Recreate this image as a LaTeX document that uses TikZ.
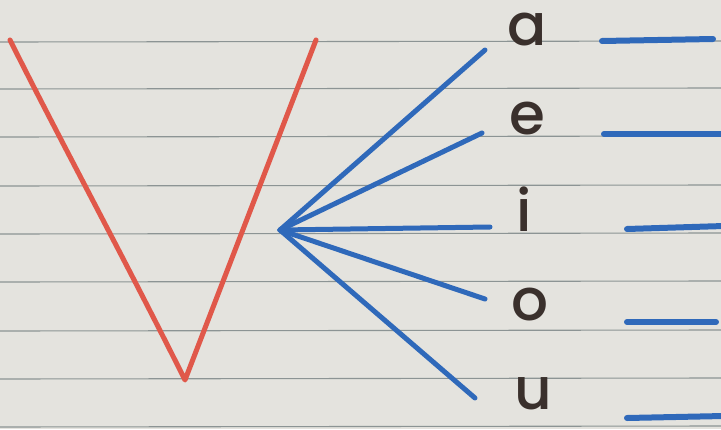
\documentclass[tikz,border=0pt]{standalone}
\usepackage{fontspec}
\setmainfont{Poppins}
\newfontfamily\vfont{Poppins Medium}
\begin{document}
\begin{tikzpicture}[x=1pt,y=-1pt,
  paper/.style={fill=paperc,draw=none},
  rule/.style={draw=rulec,line width=1.1pt},
  redpen/.style={draw=redc,line width=5pt,line cap=round,line join=round},
  bluepen/.style={draw=bluec,line width=5pt,line cap=round,line join=round},
  blank/.style={draw=bluec,line width=6pt,line cap=round},
  vowel/.style={text=inkc,font=\vfont\fontsize{58}{58}\selectfont,inner sep=0pt,anchor=base}]
\definecolor{paperc}{HTML}{E4E3DE}
\definecolor{rulec}{HTML}{8C9494}
\definecolor{redc}{HTML}{E0584A}
\definecolor{bluec}{HTML}{2F69BA}
\definecolor{inkc}{HTML}{3A302C}
\useasboundingbox (0,0) rectangle (721,429);
\fill[paper] (0,0) rectangle (721,429);
% ruled lines
\foreach \y in {42,89,137,186,234,282,331,379,427}
  \draw[rule] (0,\y) -- (721,\y-1);
% red V
\coordinate (vl) at (10,40);
\coordinate (vb) at (185,380);
\coordinate (vr) at (316,40);
\draw[redpen] (vl) .. controls (60,140) and (120,250) .. (vb) -- (vr);
% vowels
\node[vowel] (a) at (527,45) {a};
\node[vowel] (e) at (527,134) {e};
\node[vowel] (i) at (524,231) {i};
\node[vowel] (o) at (530,320) {o};
\node[vowel] (u) at (533,409) {u};
% hub and spokes
\coordinate (hub) at (280,230);
\coordinate (ea) at (485,50);
\coordinate (ee) at (482,133);
\coordinate (ei) at (490,227);
\coordinate (eo) at (485,299);
\coordinate (eu) at (475,398);
\draw[bluepen] (hub) -- (ea);
\draw[bluepen] (hub) -- (ee);
\draw[bluepen] (hub) -- (ei);
\draw[bluepen] (hub) -- (eo);
\draw[bluepen] (hub) -- (eu);
% blanks
\coordinate (ba1) at (602,41); \coordinate (ba2) at (713,39);
\coordinate (be1) at (604,134); \coordinate (be2) at (724,134);
\coordinate (bi1) at (627,229); \coordinate (bi2) at (724,226);
\coordinate (bo1) at (627,322); \coordinate (bo2) at (716,322);
\coordinate (bu1) at (627,418); \coordinate (bu2) at (724,416);
\draw[blank] (ba1) -- (ba2);
\draw[blank] (be1) -- (be2);
\draw[blank] (bi1) -- (bi2);
\draw[blank] (bo1) -- (bo2);
\draw[blank] (bu1) -- (bu2);
\end{tikzpicture}
\end{document}
